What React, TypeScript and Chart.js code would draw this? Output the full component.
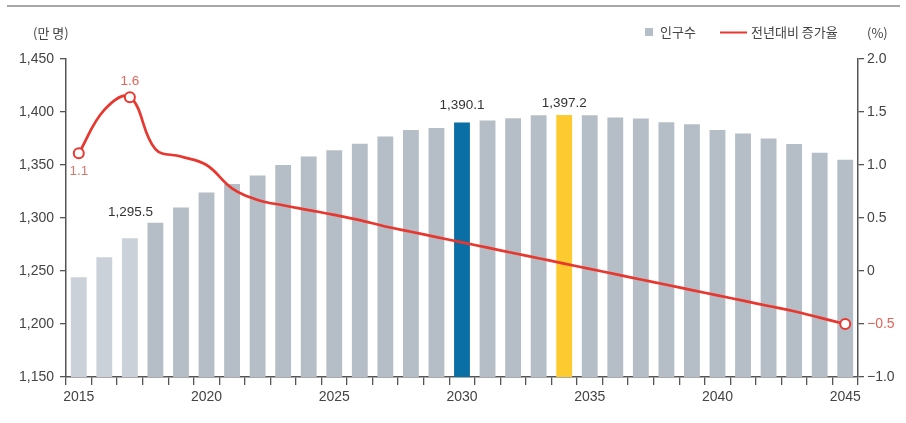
import React, { useEffect, useRef } from "react";
import { Chart, registerables } from "chart.js";

Chart.register(...registerables);

const years: string[] = [
  "2015", "2016", "2017", "2018", "2019", "2020", "2021", "2022", "2023", "2024",
  "2025", "2026", "2027", "2028", "2029", "2030", "2031", "2032", "2033", "2034",
  "2035", "2036", "2037", "2038", "2039", "2040", "2041", "2042", "2043", "2044", "2045",
];

const population: number[] = [
  1244, 1263, 1281, 1295.5, 1310, 1324, 1332, 1340, 1350, 1358,
  1364, 1370, 1377, 1383, 1385, 1390.1, 1392, 1394, 1397, 1397.2,
  1397, 1394.7, 1393.8, 1390.4, 1388.5, 1383, 1379.6, 1375, 1369.7, 1361.5, 1355,
];

const growthRate: number[] = [
  1.11, 1.52, 1.64, 1.15, 1.08, 1.0, 0.78, 0.67, 0.62, 0.575,
  0.53, 0.48, 0.42, 0.37, 0.32, 0.27, 0.22, 0.17, 0.12, 0.07,
  0.02, -0.03, -0.08, -0.13, -0.18, -0.23, -0.28, -0.33, -0.38, -0.44, -0.5,
];

const leftTicks: number[] = [1150, 1200, 1250, 1300, 1350, 1400, 1450];
const rightTicks: number[] = [-1.0, -0.5, 0, 0.5, 1.0, 1.5, 2.0];

const lightIdx = [0, 1, 2];
const blueIdx = 15;
const yellowIdx = 19;
const markerIdx = [0, 2, 30];

const barLabels = [
  { index: 3, dx: -25, dy: 4 },
  { index: 15, dx: 0, dy: 10 },
  { index: 19, dx: 0, dy: 5 },
];
const lineLabels = [
  { index: 0, text: "1.1", dy: 18, color: "#d27a70" },
  { index: 2, text: "1.6", dy: -16, color: "#e2645a" },
];

const RED = "#e8372e";
const GRAY = "#b5bec6";
const NUM_FONT = "'Liberation Sans', Arial, sans-serif";
const KR_FONT = "'Noto Sans CJK KR', 'Noto Sans', sans-serif";

const fmt = (v: number, d = 0) =>
  v.toLocaleString("en-US", { minimumFractionDigits: d, maximumFractionDigits: d });

const overlay = {
  id: "overlay",
  afterDraw(chart: any) {
    const ctx = chart.ctx as CanvasRenderingContext2D;
    ctx.save();
    // top rule
    ctx.strokeStyle = "#8a8a8a";
    ctx.lineWidth = 1.5;
    ctx.beginPath();
    ctx.moveTo(7, 6);
    ctx.lineTo(900, 6);
    ctx.stroke();

    // units
    ctx.fillStyle = "#444";
    ctx.font = `13px ${KR_FONT}`;
    ctx.textBaseline = "middle";
    ctx.textAlign = "left";
    ctx.fillText("(만 명)", 33, 33);
    ctx.fillText("(%)", 867, 33);

    // legend
    ctx.fillStyle = GRAY;
    ctx.fillRect(645, 28, 8, 8);
    ctx.fillStyle = "#444";
    ctx.fillText("인구수", 660, 32);
    ctx.strokeStyle = RED;
    ctx.lineWidth = 2;
    ctx.beginPath();
    ctx.moveTo(720, 32.5);
    ctx.lineTo(747, 32.5);
    ctx.stroke();
    ctx.fillText("전년대비 증가율", 751, 32);

    // bar labels
    const barMeta = chart.getDatasetMeta(0);
    ctx.font = `13.5px ${NUM_FONT}`;
    ctx.textAlign = "center";
    ctx.textBaseline = "bottom";
    ctx.fillStyle = "#333";
    for (const l of barLabels) {
      const el = barMeta.data[l.index];
      if (!el) continue;
      ctx.fillText(fmt(population[l.index], 1), el.x + l.dx, el.y - l.dy);
    }

    // line labels
    const lineMeta = chart.getDatasetMeta(1);
    ctx.textBaseline = "middle";
    for (const l of lineLabels) {
      const el = lineMeta.data[l.index];
      if (!el) continue;
      ctx.fillStyle = l.color;
      ctx.fillText(l.text, el.x, el.y + l.dy);
    }
    ctx.restore();
  },
};

export default function App() {
  const ref = useRef<HTMLCanvasElement | null>(null);

  useEffect(() => {
    document.body.style.margin = "0";
    const canvas = ref.current;
    if (!canvas) return;

    const barColors = population.map((_, i) =>
      i === blueIdx ? "#0a6fa4" : i === yellowIdx ? "#fdcb30" : lightIdx.includes(i) ? "#cad1d8" : GRAY
    );
    const radii = growthRate.map((_, i) => (markerIdx.includes(i) ? 5 : 0));

    const chart = new Chart(canvas, {
      data: {
        labels: years,
        datasets: [
          {
            type: "bar",
            label: "인구수",
            data: population,
            backgroundColor: barColors,
            borderWidth: 0,
            barPercentage: 0.62,
            categoryPercentage: 1,
            yAxisID: "y",
            order: 2,
          },
          {
            type: "line",
            label: "전년대비 증가율",
            data: growthRate,
            borderColor: RED,
            borderWidth: 2.7,
            tension: 0.4,
            pointRadius: radii,
            pointHoverRadius: radii,
            pointBackgroundColor: "#ffffff",
            pointBorderColor: RED,
            pointBorderWidth: 2,
            yAxisID: "y1",
            order: 1,
          },
        ],
      } as any,
      options: {
        responsive: false,
        animation: false,
        events: [],
        layout: { padding: { top: 59, left: 0, right: 0, bottom: 0 } },
        plugins: { legend: { display: false }, tooltip: { enabled: false } },
        scales: {
          x: {
            offset: true,
            grid: {
              offset: true,
              drawOnChartArea: false,
              drawTicks: true,
              tickLength: 8,
              tickColor: "#555",
              lineWidth: 1.3,
            },
            border: { display: true, color: "#555", width: 1.5 },
            ticks: {
              autoSkip: false,
              maxRotation: 0,
              padding: 4,
              color: "#444",
              font: { family: NUM_FONT, size: 14 },
              callback: (_v: any, i: number) => (i % 5 === 0 ? years[i] : ""),
            },
            afterFit: (s: any) => {
              s.height = 46;
            },
          },
          y: {
            position: "left",
            min: leftTicks[0],
            max: leftTicks[leftTicks.length - 1],
            afterBuildTicks: (s: any) => {
              s.ticks = leftTicks.map((v) => ({ value: v }));
            },
            grid: { drawOnChartArea: false, tickLength: 6, tickColor: "#555", lineWidth: 1.3 },
            border: { display: true, color: "#555", width: 1.5 },
            ticks: {
              padding: 6,
              color: "#444",
              font: { family: NUM_FONT, size: 14 },
              callback: (v: any) => fmt(Number(v)),
            },
            afterFit: (s: any) => {
              s.width = 66;
            },
          },
          y1: {
            position: "right",
            min: rightTicks[0],
            max: rightTicks[rightTicks.length - 1],
            afterBuildTicks: (s: any) => {
              s.ticks = rightTicks.map((v) => ({ value: v }));
            },
            grid: { drawOnChartArea: false, tickLength: 6, tickColor: "#555", lineWidth: 1.3 },
            border: { display: true, color: "#555", width: 1.5 },
            ticks: {
              padding: 3,
              color: (c: any) => (c.tick && c.tick.value === -0.5 ? "#e2645a" : "#444"),
              font: { family: NUM_FONT, size: 14 },
              callback: (v: any) => {
                const n = Number(v);
                if (n === 0) return "0";
                const s = Math.abs(n).toFixed(1);
                return n < 0 ? "\u2212" + s : s;
              },
            },
            afterFit: (s: any) => {
              s.width = 48;
            },
          },
        },
      } as any,
      plugins: [overlay],
    });

    return () => chart.destroy();
  }, []);

  return (
    <div style={{ width: 906, height: 423, background: "#fff" }}>
      <canvas ref={ref} width={906} height={423} style={{ display: "block" }} />
    </div>
  );
}
